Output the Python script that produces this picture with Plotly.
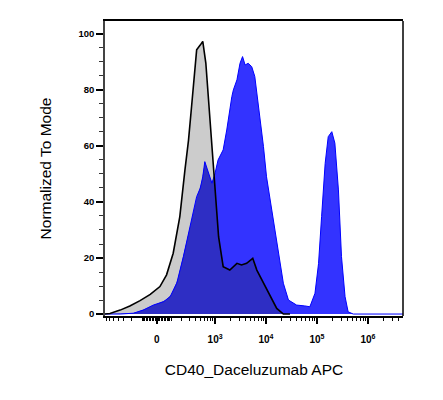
import numpy as np
import plotly.graph_objects as go

# Axis positions are in display (biexponential) units: 10^k sits at k.
gray_x = [0.84, 0.94, 1.14, 1.33, 1.53, 1.73, 1.92, 2.05, 2.18, 2.31, 2.41, 2.48, 2.54,
          2.64, 2.71, 2.76, 2.82, 2.90, 3.00, 3.07, 3.16, 3.29, 3.43, 3.52, 3.62, 3.74,
          3.82, 3.95, 4.08, 4.21, 4.34, 4.47]
gray_y = [0, 0.2, 1.4, 2.9, 4.8, 7.0, 9.8, 14, 21.7, 34.8, 51.4, 62, 74,
          94.3, 96, 97.3, 89.6, 70.5, 44.3, 27.6, 16.9, 15.7, 18.1, 17.5, 18.1, 19.9,
          15.7, 11, 6.2, 2.0, 0, 0]

blue_x = [0.84, 1.14, 1.40, 1.59, 1.79, 1.99, 2.12, 2.25, 2.38, 2.51, 2.64, 2.71, 2.76,
          2.80, 2.87, 2.94, 3.00, 3.06, 3.16, 3.23, 3.33, 3.36, 3.43, 3.49, 3.54, 3.59,
          3.65, 3.72, 3.78, 3.88, 3.95, 4.01, 4.11, 4.21, 4.27, 4.34, 4.44, 4.60, 4.76,
          4.86, 4.96, 5.03, 5.09, 5.16, 5.22, 5.29, 5.35, 5.42, 5.48, 5.55, 5.61, 5.71, 6.69]
blue_y = [0, 0, 0.3, 1.4, 3.2, 4.4, 6.2, 11, 20.5, 31.2, 41.9, 44.9, 49,
          54.4, 50.2, 46.7, 50.2, 55, 58.6, 65.7, 77.6, 80, 83.6, 89.5, 91.9, 88.9,
          89.5, 88.3, 84.8, 70.5, 59.8, 49, 37, 25.2, 18, 11, 5, 3.2, 2.9,
          2.6, 7.4, 18, 34.8, 53.8, 63.3, 65.1, 61, 44.3, 20.5, 6.2, 0.8, 0, 0]

y_ticks = [0, 20, 40, 60, 80, 100]
x_major_vals = [0, 1e3, 1e4, 1e5, 1e6]
x_major_text = ["0", "10<sup>3</sup>", "10<sup>4</sup>", "10<sup>5</sup>", "10<sup>6</sup>"]

W = 72.0
def biex(v):
    v = np.asarray(v, dtype=float)
    return np.arcsinh(v / (2 * W)) / np.log(10) + np.log10(W)

minor_vals = []
for dec in [10, 100, 1000, 10000, 100000, 1000000]:
    for m in range(1, 10):
        minor_vals += [m * dec, -m * dec]
x_lo, x_hi = 0.843, 6.686
minor_pos = [float(p) for p in biex(minor_vals) if x_lo <= p <= x_hi]
major_pos = [float(p) for p in biex(x_major_vals)]

grid = np.unique(np.concatenate([gray_x, blue_x, np.linspace(x_lo, x_hi, 3000)]))
overlap = np.minimum(np.interp(grid, gray_x, gray_y), np.interp(grid, blue_x, blue_y))

fig = go.Figure()
fig.add_trace(go.Scatter(x=gray_x, y=gray_y, mode="lines", fill="tozeroy",
                         fillcolor="#CCCCCC", line=dict(width=0), hoverinfo="skip"))
fig.add_trace(go.Scatter(x=blue_x, y=blue_y, mode="lines", fill="tozeroy",
                         fillcolor="#3333FF", line=dict(width=0), hoverinfo="skip"))
fig.add_trace(go.Scatter(x=grid, y=overlap, mode="lines", fill="tozeroy",
                         fillcolor="#2E2EC4", line=dict(width=0), hoverinfo="skip"))
fig.add_trace(go.Scatter(x=blue_x, y=blue_y, mode="lines",
                         line=dict(color="#0000FF", width=1), hoverinfo="skip"))
fig.add_trace(go.Scatter(x=gray_x, y=gray_y, mode="lines",
                         line=dict(color="#000000", width=1.6), hoverinfo="skip"))

fig.update_layout(
    width=443, height=400, showlegend=False,
    margin=dict(l=97, r=48, t=13, b=92),
    paper_bgcolor="white", plot_bgcolor="white",
    font=dict(family="Arial, Liberation Sans, sans-serif", color="#000"),
    xaxis=dict(range=[x_lo, x_hi], showgrid=False, zeroline=False,
               showline=True, linecolor="#000", linewidth=1.5, mirror=True,
               tickmode="array", tickvals=major_pos, ticktext=x_major_text,
               ticks="outside", ticklen=6, tickwidth=1.5, tickcolor="#000",
               tickfont=dict(size=10, weight="bold"), ticklabelstandoff=7,
               minor=dict(tickmode="array", tickvals=minor_pos, ticks="outside",
                          ticklen=3, tickwidth=1, tickcolor="#000"),
               title=dict(text="CD40_Daceluzumab APC", font=dict(size=15.5), standoff=20)),
    yaxis=dict(range=[-0.7, 104.6], showgrid=False, zeroline=False,
               showline=True, linecolor="#444", linewidth=1.5, mirror=False,
               tickmode="array", tickvals=y_ticks,
               ticks="outside", ticklen=7, tickwidth=1.5, tickcolor="#000",
               tickfont=dict(size=9.5, weight="bold"),
               minor=dict(dtick=5, ticks="outside", ticklen=4, tickwidth=1, tickcolor="#333"),
               title=dict(text="Normalized To Mode", font=dict(size=15.5), standoff=23)),
    shapes=[dict(type="line", xref="paper", yref="paper", x0=1, x1=1, y0=0, y1=1,
                 line=dict(color="#000", width=1.5))],
)
fig.write_html("out.html")
